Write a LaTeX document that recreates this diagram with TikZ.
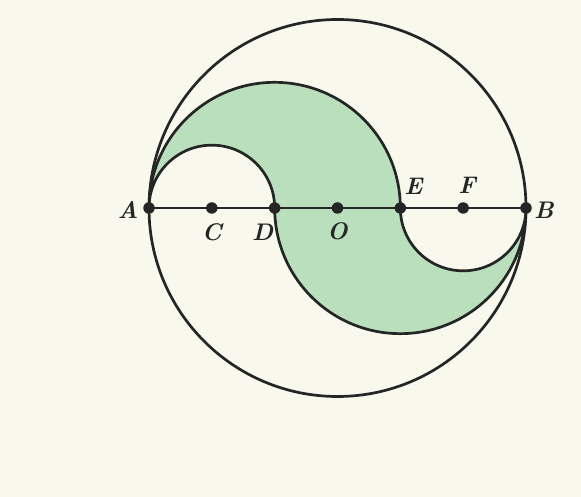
\documentclass[tikz,border=0pt]{standalone}
\usetikzlibrary{calc}
\definecolor{paper}{RGB}{248,248,237}
\definecolor{shade}{RGB}{186,223,188}
\definecolor{ink}{RGB}{35,38,36}
\begin{document}
\begin{tikzpicture}[x=1pt,y=1pt,
  line/.style={draw=ink,line width=2.7pt},
  pt/.style={circle,fill=ink,inner sep=0pt,minimum size=11.5pt},
  lab/.style={inner sep=0pt,text=ink,font=\fontsize{24}{28}\selectfont\bfseries\itshape}]
\fill[paper] (0,0) rectangle (581,497);
\useasboundingbox (0,0) rectangle (581,497);
\def\u{62.8333}
\coordinate (A) at (149,289);
\coordinate (C) at ($(A)+(\u,0)$);
\coordinate (D) at ($(A)+(2*\u,0)$);
\coordinate (O) at ($(A)+(3*\u,0)$);
\coordinate (E) at ($(A)+(4*\u,0)$);
\coordinate (F) at ($(A)+(5*\u,0)$);
\coordinate (B) at ($(A)+(6*\u,0)$);
% shaded S region
\path[fill=shade,line,line join=round]
  (A) arc[start angle=180,end angle=0,radius=2*\u]
      arc[start angle=180,end angle=360,radius=\u]
      arc[start angle=0,end angle=-180,radius=2*\u]
      arc[start angle=0,end angle=180,radius=\u] -- cycle;
\draw[line] (O) circle[radius=3*\u];
\draw[line] (A) -- (B);
\foreach \p in {A,C,D,O,E,F,B} \node[pt] (n\p) at (\p) {};
\node[lab] (lA) at ($(A)+(-21,-2)$) {A};
\node[lab] (lC) at ($(C)+(0,-24)$) {C};
\node[lab] (lD) at ($(D)+(-12,-24)$) {D};
\node[lab] (lO) at ($(O)+(0,-23)$) {O};
\node[lab] (lE) at ($(E)+(13,22)$) {E};
\node[lab] (lF) at ($(F)+(4,23)$) {F};
\node[lab] (lB) at ($(B)+(18,-2)$) {B};
\end{tikzpicture}
\end{document}
